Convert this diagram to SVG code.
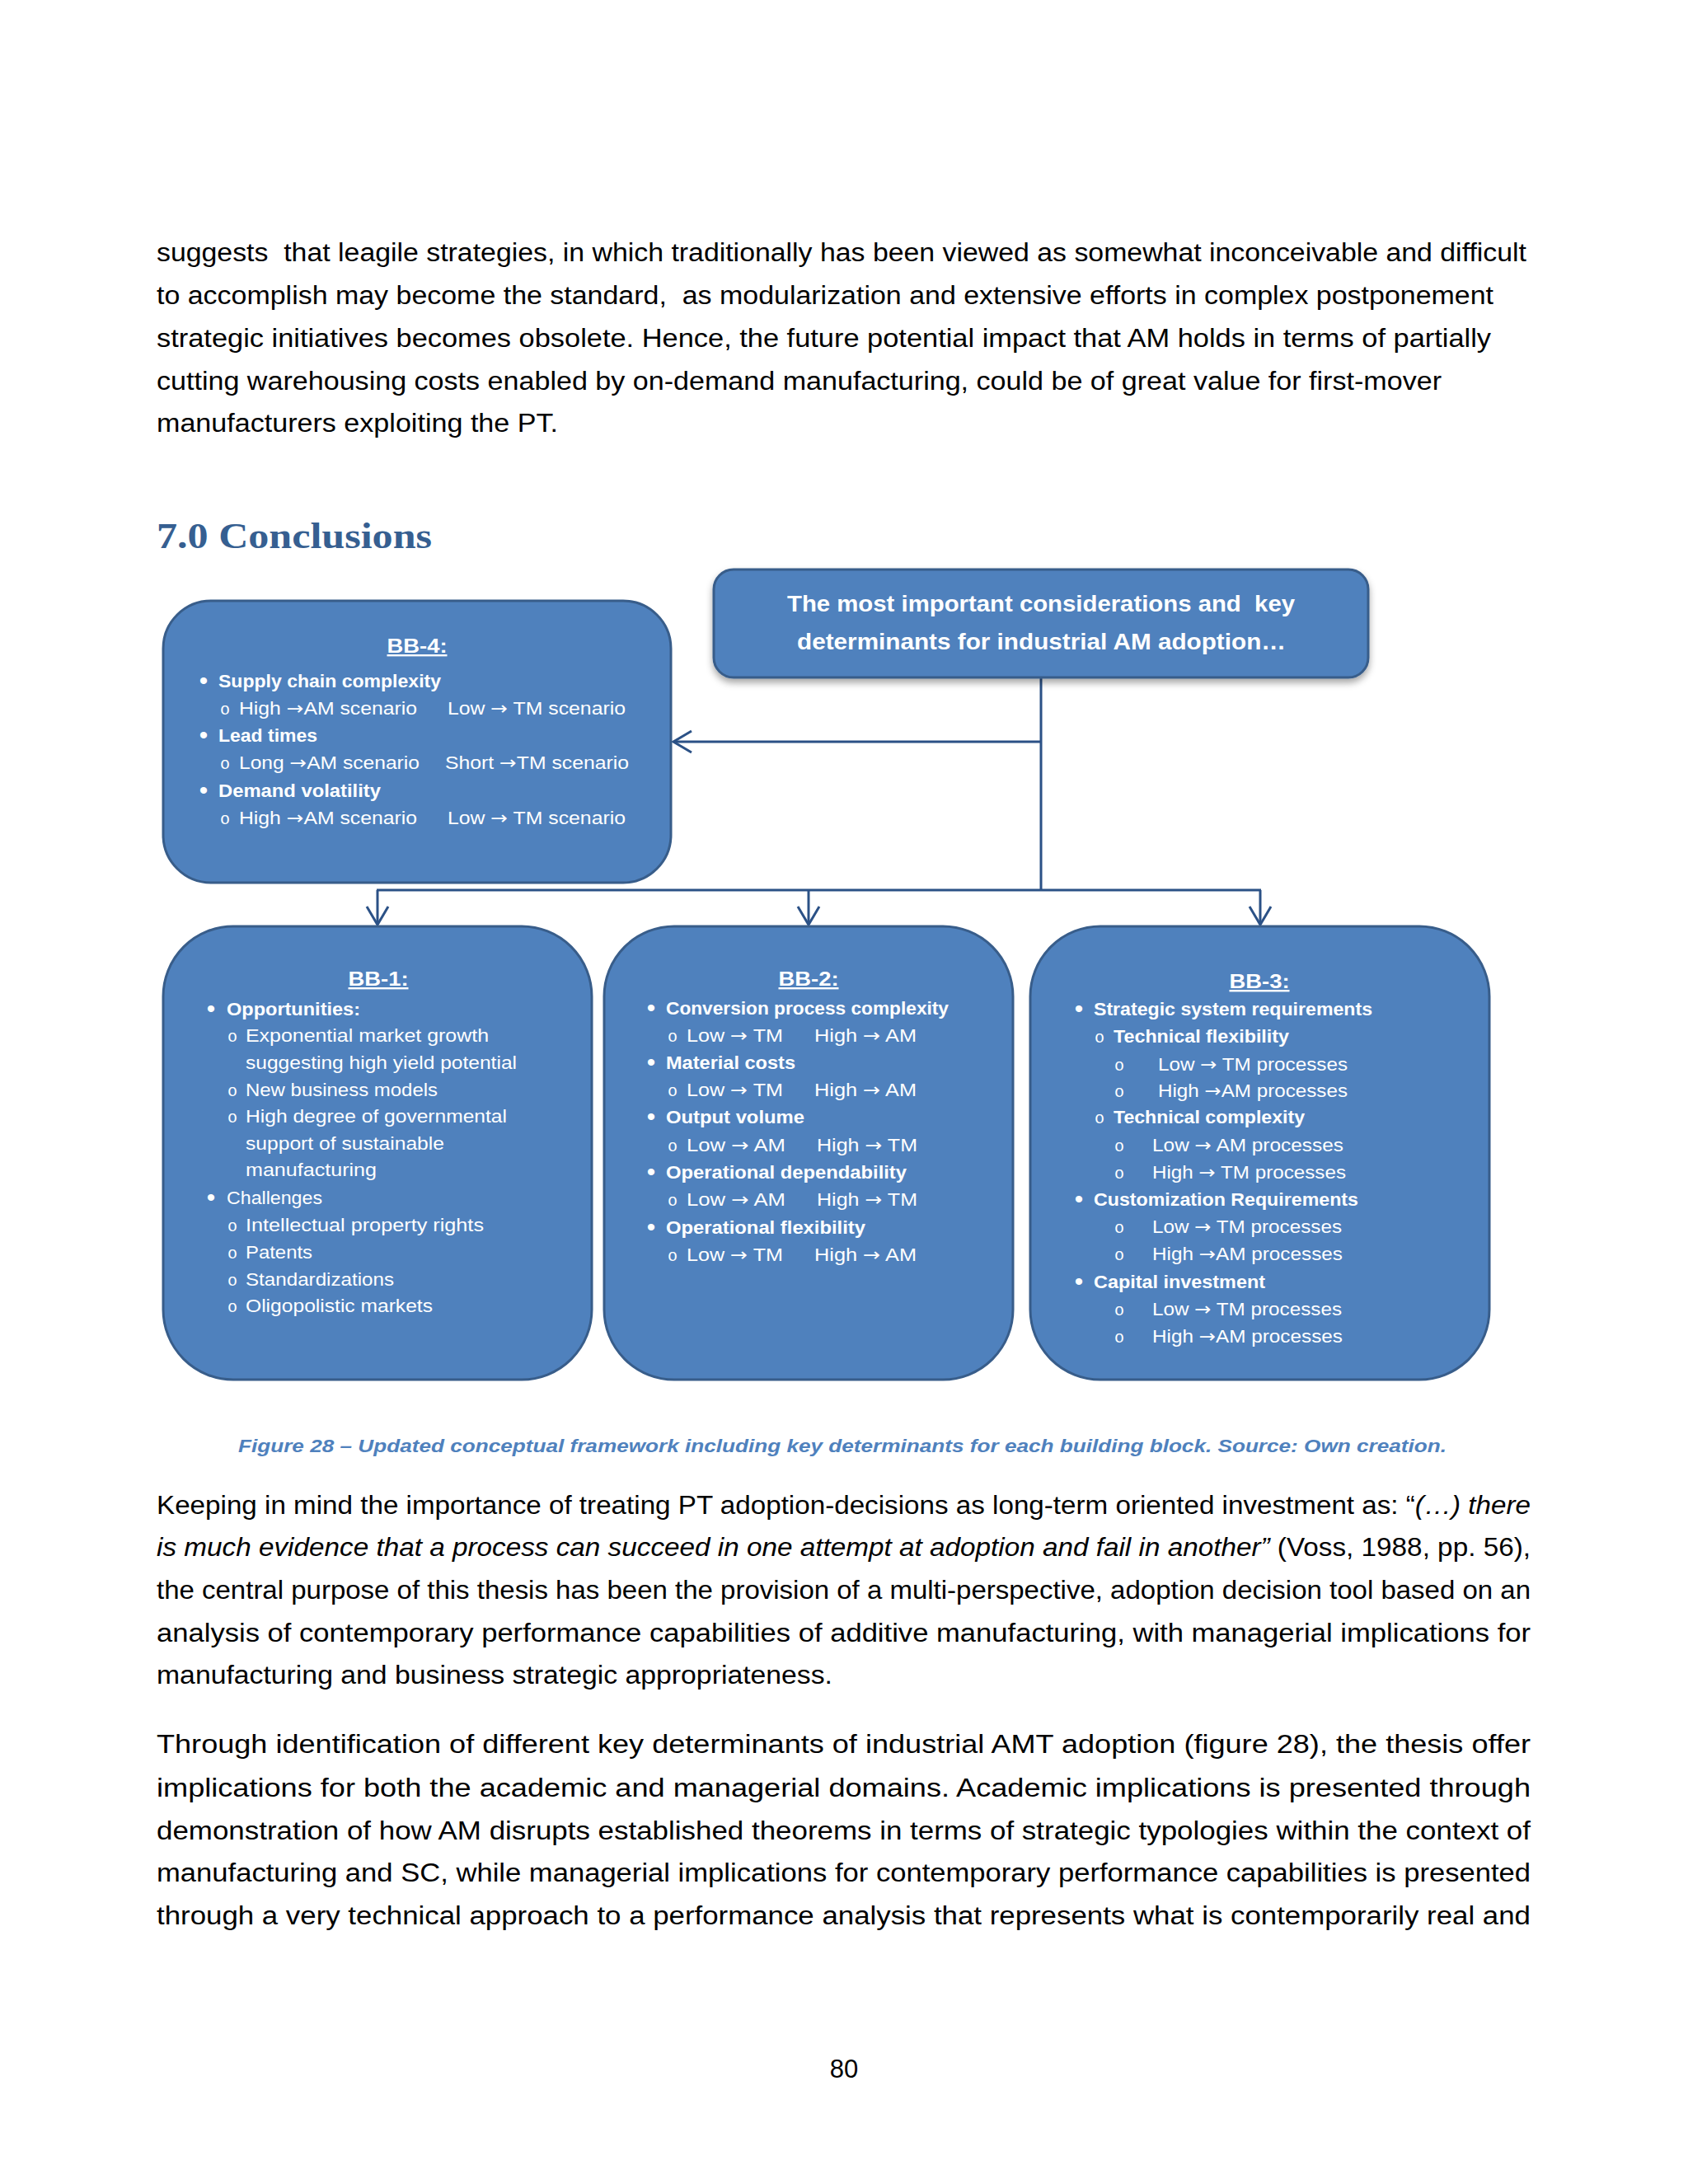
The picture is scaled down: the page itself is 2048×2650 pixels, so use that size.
<svg xmlns="http://www.w3.org/2000/svg" width="2048" height="2650" viewBox="0 0 2048 2650">
<defs>
<style>
.body{font-family:"Liberation Sans",Arial,sans-serif;font-size:31px;fill:#000}
.it{font-style:italic}
.h1{font-family:"Liberation Serif","Times New Roman",serif;font-weight:bold;font-size:44px;fill:#365F91}
.cap{font-family:"Liberation Sans",Arial,sans-serif;font-size:22px;font-weight:bold;font-style:italic;fill:#4F81BD}
.box{fill:#4F81BD;stroke:#385D8A;stroke-width:3}
.t{font-family:"Liberation Sans",Arial,sans-serif;font-size:22px;fill:#fff}
.b{font-weight:bold}
.ar{font-family:"DejaVu Sans",sans-serif;font-weight:normal}
.hd{font-family:"Liberation Sans",Arial,sans-serif;font-size:24px;font-weight:bold;fill:#fff;text-decoration:underline;text-anchor:middle}
.top{font-family:"Liberation Sans",Arial,sans-serif;font-size:28px;font-weight:bold;fill:#fff}
.dot{font-family:"Liberation Sans",Arial,sans-serif;font-size:30px;fill:#fff;text-anchor:middle}
.o{font-family:"Liberation Mono","Courier New",monospace;font-size:20px;fill:#fff;text-anchor:middle}
.conn{fill:none;stroke:#2B5186;stroke-width:3}
</style>
<marker id="arr" markerUnits="userSpaceOnUse" markerWidth="34" markerHeight="34" viewBox="0 0 34 34" refX="29" refY="17" orient="auto">
<path d="M7,4 L29,17 L7,30" fill="none" stroke="#2B5186" stroke-width="3"/>
</marker>
<filter id="shadow" x="-5%" y="-10%" width="110%" height="130%">
<feDropShadow dx="0" dy="5" stdDeviation="4" flood-color="#000" flood-opacity="0.35"/>
</filter>
</defs>
<rect x="0" y="0" width="2048" height="2650" fill="#fff"/>

<g id="text-top">
<text class="body" x="190" y="317" textLength="1662" lengthAdjust="spacingAndGlyphs" xml:space="preserve">suggests  that leagile strategies, in which traditionally has been viewed as somewhat inconceivable and difficult</text>
<text class="body" x="190" y="369" textLength="1622" lengthAdjust="spacingAndGlyphs" xml:space="preserve">to accomplish may become the standard,  as modularization and extensive efforts in complex postponement</text>
<text class="body" x="190" y="421" textLength="1619" lengthAdjust="spacingAndGlyphs">strategic initiatives becomes obsolete. Hence, the future potential impact that AM holds in terms of partially</text>
<text class="body" x="190" y="473" textLength="1559" lengthAdjust="spacingAndGlyphs">cutting warehousing costs enabled by on-demand manufacturing, could be of great value for first-mover</text>
<text class="body" x="190" y="524" textLength="487" lengthAdjust="spacingAndGlyphs">manufacturers exploiting the PT.</text>
<text class="h1" x="190" y="665" textLength="334" lengthAdjust="spacingAndGlyphs">7.0 Conclusions</text>
</g>

<g id="connectors">
<path class="conn" d="M1263,822 V1080"/>
<path class="conn" d="M1263,900 H817" marker-end="url(#arr)"/>
<path class="conn" d="M457,1080 H1530"/>
<path class="conn" d="M458,1080 V1122" marker-end="url(#arr)"/>
<path class="conn" d="M981,1080 V1122" marker-end="url(#arr)"/>
<path class="conn" d="M1529,1080 V1122" marker-end="url(#arr)"/>
</g>

<g id="node-top">
<rect class="box" x="866" y="691" width="794" height="131" rx="24" filter="url(#shadow)"/>
<text class="top" x="955" y="742" textLength="616" lengthAdjust="spacingAndGlyphs" xml:space="preserve">The most important considerations and  key</text>
<text class="top" x="967" y="788" textLength="593" lengthAdjust="spacingAndGlyphs">determinants for industrial AM adoption…</text>
</g>

<g id="node-bb4">
<rect class="box" x="198" y="729" width="616" height="342" rx="58"/>
<text class="hd" x="506" y="792" textLength="73" lengthAdjust="spacingAndGlyphs">BB-4:</text>
<text class="dot" x="247" y="836">•</text>
<text class="t b" x="265" y="834" textLength="270" lengthAdjust="spacingAndGlyphs">Supply chain complexity</text>
<text class="o" x="273" y="867">o</text>
<text class="t" x="290" y="867" textLength="216" lengthAdjust="spacingAndGlyphs">High <tspan class="ar">→</tspan>AM scenario</text>
<text class="t" x="543" y="867" textLength="216" lengthAdjust="spacingAndGlyphs">Low <tspan class="ar">→</tspan> TM scenario</text>
<text class="dot" x="247" y="902">•</text>
<text class="t b" x="265" y="900" textLength="120" lengthAdjust="spacingAndGlyphs">Lead times</text>
<text class="o" x="273" y="933">o</text>
<text class="t" x="290" y="933" textLength="219" lengthAdjust="spacingAndGlyphs">Long <tspan class="ar">→</tspan>AM scenario</text>
<text class="t" x="540" y="933" textLength="223" lengthAdjust="spacingAndGlyphs">Short <tspan class="ar">→</tspan>TM scenario</text>
<text class="dot" x="247" y="969">•</text>
<text class="t b" x="265" y="967" textLength="197" lengthAdjust="spacingAndGlyphs">Demand volatility</text>
<text class="o" x="273" y="1000">o</text>
<text class="t" x="290" y="1000" textLength="216" lengthAdjust="spacingAndGlyphs">High <tspan class="ar">→</tspan>AM scenario</text>
<text class="t" x="543" y="1000" textLength="216" lengthAdjust="spacingAndGlyphs">Low <tspan class="ar">→</tspan> TM scenario</text>
</g>

<g id="node-bb1">
<rect class="box" x="198" y="1124" width="520" height="550" rx="85"/>
<text class="hd" x="459" y="1196" textLength="73" lengthAdjust="spacingAndGlyphs">BB-1:</text>
<text class="dot" x="256" y="1234">•</text>
<text class="t b" x="275" y="1232" textLength="162" lengthAdjust="spacingAndGlyphs">Opportunities:</text>
<text class="o" x="282" y="1264">o</text>
<text class="t" x="298" y="1264" textLength="295" lengthAdjust="spacingAndGlyphs">Exponential market growth</text>
<text class="t" x="298" y="1297" textLength="329" lengthAdjust="spacingAndGlyphs">suggesting high yield potential</text>
<text class="o" x="282" y="1330">o</text>
<text class="t" x="298" y="1330" textLength="233" lengthAdjust="spacingAndGlyphs">New business models</text>
<text class="o" x="282" y="1362">o</text>
<text class="t" x="298" y="1362" textLength="317" lengthAdjust="spacingAndGlyphs">High degree of governmental</text>
<text class="t" x="298" y="1395" textLength="241" lengthAdjust="spacingAndGlyphs">support of sustainable</text>
<text class="t" x="298" y="1427" textLength="159" lengthAdjust="spacingAndGlyphs">manufacturing</text>
<text class="dot" x="256" y="1463">•</text>
<text class="t" x="275" y="1461" textLength="116" lengthAdjust="spacingAndGlyphs">Challenges</text>
<text class="o" x="282" y="1494">o</text>
<text class="t" x="298" y="1494" textLength="289" lengthAdjust="spacingAndGlyphs">Intellectual property rights</text>
<text class="o" x="282" y="1527">o</text>
<text class="t" x="298" y="1527" textLength="81" lengthAdjust="spacingAndGlyphs">Patents</text>
<text class="o" x="282" y="1560">o</text>
<text class="t" x="298" y="1560" textLength="180" lengthAdjust="spacingAndGlyphs">Standardizations</text>
<text class="o" x="282" y="1592">o</text>
<text class="t" x="298" y="1592" textLength="227" lengthAdjust="spacingAndGlyphs">Oligopolistic markets</text>
</g>

<g id="node-bb2">
<rect class="box" x="733" y="1124" width="496" height="550" rx="85"/>
<text class="hd" x="981" y="1196" textLength="73" lengthAdjust="spacingAndGlyphs">BB-2:</text>
<text class="dot" x="790" y="1233">•</text>
<text class="t b" x="808" y="1231" textLength="343" lengthAdjust="spacingAndGlyphs">Conversion process complexity</text>
<text class="o" x="816" y="1264">o</text>
<text class="t" x="833" y="1264" textLength="117" lengthAdjust="spacingAndGlyphs">Low <tspan class="ar">→</tspan> TM</text>
<text class="t" x="988" y="1264" textLength="124" lengthAdjust="spacingAndGlyphs">High <tspan class="ar">→</tspan> AM</text>
<text class="dot" x="790" y="1299">•</text>
<text class="t b" x="808" y="1297" textLength="157" lengthAdjust="spacingAndGlyphs">Material costs</text>
<text class="o" x="816" y="1330">o</text>
<text class="t" x="833" y="1330" textLength="117" lengthAdjust="spacingAndGlyphs">Low <tspan class="ar">→</tspan> TM</text>
<text class="t" x="988" y="1330" textLength="124" lengthAdjust="spacingAndGlyphs">High <tspan class="ar">→</tspan> AM</text>
<text class="dot" x="790" y="1365">•</text>
<text class="t b" x="808" y="1363" textLength="168" lengthAdjust="spacingAndGlyphs">Output volume</text>
<text class="o" x="816" y="1397">o</text>
<text class="t" x="833" y="1397" textLength="120" lengthAdjust="spacingAndGlyphs">Low <tspan class="ar">→</tspan> AM</text>
<text class="t" x="991" y="1397" textLength="122" lengthAdjust="spacingAndGlyphs">High <tspan class="ar">→</tspan> TM</text>
<text class="dot" x="790" y="1432">•</text>
<text class="t b" x="808" y="1430" textLength="292" lengthAdjust="spacingAndGlyphs">Operational dependability</text>
<text class="o" x="816" y="1463">o</text>
<text class="t" x="833" y="1463" textLength="120" lengthAdjust="spacingAndGlyphs">Low <tspan class="ar">→</tspan> AM</text>
<text class="t" x="991" y="1463" textLength="122" lengthAdjust="spacingAndGlyphs">High <tspan class="ar">→</tspan> TM</text>
<text class="dot" x="790" y="1499">•</text>
<text class="t b" x="808" y="1497" textLength="242" lengthAdjust="spacingAndGlyphs">Operational flexibility</text>
<text class="o" x="816" y="1530">o</text>
<text class="t" x="833" y="1530" textLength="117" lengthAdjust="spacingAndGlyphs">Low <tspan class="ar">→</tspan> TM</text>
<text class="t" x="988" y="1530" textLength="124" lengthAdjust="spacingAndGlyphs">High <tspan class="ar">→</tspan> AM</text>
</g>

<g id="node-bb3">
<rect class="box" x="1250" y="1124" width="557" height="550" rx="85"/>
<text class="hd" x="1528" y="1199" textLength="73" lengthAdjust="spacingAndGlyphs">BB-3:</text>
<text class="dot" x="1309" y="1234">•</text>
<text class="t b" x="1327" y="1232" textLength="338" lengthAdjust="spacingAndGlyphs">Strategic system requirements</text>
<text class="o" x="1334" y="1265">o</text>
<text class="t b" x="1351" y="1265" textLength="213" lengthAdjust="spacingAndGlyphs">Technical flexibility</text>
<text class="o" x="1358" y="1299">o</text>
<text class="t" x="1405" y="1299" textLength="230" lengthAdjust="spacingAndGlyphs">Low <tspan class="ar">→</tspan> TM processes</text>
<text class="o" x="1358" y="1331">o</text>
<text class="t" x="1405" y="1331" textLength="230" lengthAdjust="spacingAndGlyphs">High <tspan class="ar">→</tspan>AM processes</text>
<text class="o" x="1334" y="1363">o</text>
<text class="t b" x="1351" y="1363" textLength="232" lengthAdjust="spacingAndGlyphs">Technical complexity</text>
<text class="o" x="1358" y="1397">o</text>
<text class="t" x="1398" y="1397" textLength="232" lengthAdjust="spacingAndGlyphs">Low <tspan class="ar">→</tspan> AM processes</text>
<text class="o" x="1358" y="1430">o</text>
<text class="t" x="1398" y="1430" textLength="235" lengthAdjust="spacingAndGlyphs">High <tspan class="ar">→</tspan> TM processes</text>
<text class="dot" x="1309" y="1465">•</text>
<text class="t b" x="1327" y="1463" textLength="321" lengthAdjust="spacingAndGlyphs">Customization Requirements</text>
<text class="o" x="1358" y="1496">o</text>
<text class="t" x="1398" y="1496" textLength="230" lengthAdjust="spacingAndGlyphs">Low <tspan class="ar">→</tspan> TM processes</text>
<text class="o" x="1358" y="1529">o</text>
<text class="t" x="1398" y="1529" textLength="231" lengthAdjust="spacingAndGlyphs">High <tspan class="ar">→</tspan>AM processes</text>
<text class="dot" x="1309" y="1565">•</text>
<text class="t b" x="1327" y="1563" textLength="208" lengthAdjust="spacingAndGlyphs">Capital investment</text>
<text class="o" x="1358" y="1596">o</text>
<text class="t" x="1398" y="1596" textLength="230" lengthAdjust="spacingAndGlyphs">Low <tspan class="ar">→</tspan> TM processes</text>
<text class="o" x="1358" y="1629">o</text>
<text class="t" x="1398" y="1629" textLength="231" lengthAdjust="spacingAndGlyphs">High <tspan class="ar">→</tspan>AM processes</text>
</g>

<g id="text-bottom">
<text class="cap" x="289" y="1762" textLength="1466" lengthAdjust="spacingAndGlyphs">Figure 28 – Updated conceptual framework including key determinants for each building block. Source: Own creation.</text>
<text class="body" x="190" y="1837" textLength="1667" lengthAdjust="spacingAndGlyphs">Keeping in mind the importance of treating PT adoption-decisions as long-term oriented investment as: “<tspan class="it">(…) there</tspan></text>
<text class="body" x="190" y="1888" textLength="1667" lengthAdjust="spacingAndGlyphs"><tspan class="it">is much evidence that a process can succeed in one attempt at adoption and fail in another”</tspan> (Voss, 1988, pp. 56),</text>
<text class="body" x="190" y="1940" textLength="1667" lengthAdjust="spacingAndGlyphs">the central purpose of this thesis has been the provision of a multi-perspective, adoption decision tool based on an</text>
<text class="body" x="190" y="1992" textLength="1667" lengthAdjust="spacingAndGlyphs">analysis of contemporary performance capabilities of additive manufacturing, with managerial implications for</text>
<text class="body" x="190" y="2043" textLength="820" lengthAdjust="spacingAndGlyphs">manufacturing and business strategic appropriateness.</text>
<text class="body" x="190" y="2127" textLength="1667" lengthAdjust="spacingAndGlyphs">Through identification of different key determinants of industrial AMT adoption (figure 28), the thesis offer</text>
<text class="body" x="190" y="2180" textLength="1667" lengthAdjust="spacingAndGlyphs">implications for both the academic and managerial domains. Academic implications is presented through</text>
<text class="body" x="190" y="2232" textLength="1667" lengthAdjust="spacingAndGlyphs">demonstration of how AM disrupts established theorems in terms of strategic typologies within the context of</text>
<text class="body" x="190" y="2283" textLength="1667" lengthAdjust="spacingAndGlyphs">manufacturing and SC, while managerial implications for contemporary performance capabilities is presented</text>
<text class="body" x="190" y="2335" textLength="1667" lengthAdjust="spacingAndGlyphs">through a very technical approach to a performance analysis that represents what is contemporarily real and</text>
<text class="body" x="1024" y="2521" text-anchor="middle" font-size="33">80</text>
</g>
</svg>
